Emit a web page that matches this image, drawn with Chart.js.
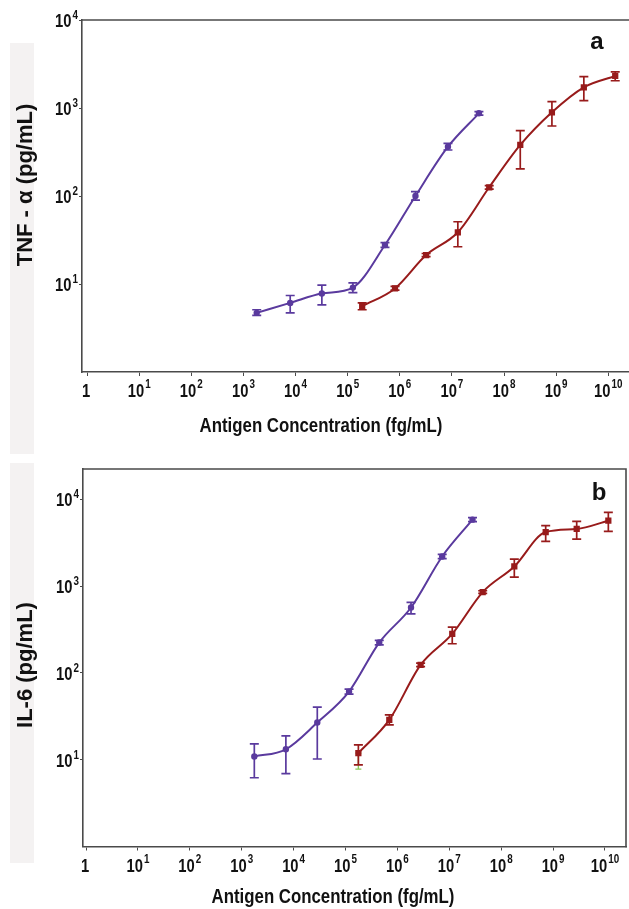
<!DOCTYPE html>
<html><head><meta charset="utf-8">
<script src="https://cdn.jsdelivr.net/npm/chart.js@4.4.1/dist/chart.umd.min.js"></script>
<style>
html,body{margin:0;padding:0;background:#fff;width:629px;height:909px;overflow:hidden;}
.strip{position:absolute;left:10px;width:24px;background:#f4f2f2;}
canvas{position:absolute;left:0;}
</style></head><body>
<div class="strip" style="top:43px;height:411px"></div>
<div class="strip" style="top:463px;height:400px"></div>
<canvas id="ca" width="629" height="455" style="top:0px"></canvas>
<canvas id="cb" width="629" height="454" style="top:455px"></canvas>
<script>
// ---------- tick exponents (labels 10^n) ----------
const xTickExponents = [0,1,2,3,4,5,6,7,8,9,10];
const yTickExponents = [1,2,3,4];

// ---------- texts ----------
const xTitle = 'Antigen Concentration (fg/mL)';
const yTitleA = 'TNF - \u03b1 (pg/mL)';
const yTitleB = 'IL-6 (pg/mL)';
const labelA = 'a';
const labelB = 'b';

// ---------- Panel a : TNF-alpha ----------
const tnfPurpleX  = [1.8e3, 7.9e3, 3.2e4, 1.26e5, 5.2e5, 2.0e6, 8.4e6, 3.3e7];
const tnfPurpleY  = [4.7, 6.1, 7.8, 9.1, 27.7, 100, 363, 870];
const tnfPurpleLo = [4.4, 4.7, 5.8, 8.0, 26.1, 90, 333, 832];
const tnfPurpleHi = [5.1, 7.4, 9.7, 10.3, 29.5, 112, 397, 908];

const tnfRedX  = [1.9e5, 8.1e5, 3.2e6, 1.3e7, 5.2e7, 2.05e8, 8.3e8, 3.4e9, 1.36e10];
const tnfRedY  = [5.6, 8.9, 21.3, 38.7, 125.6, 380, 894, 1718, 2310];
const tnfRedLo = [5.1, 8.5, 20.5, 26.5, 120, 203, 624, 1210, 2040];
const tnfRedHi = [6.1, 9.4, 22.2, 51, 131, 552, 1180, 2270, 2570];

// ---------- Panel b : IL-6 ----------
const il6PurpleX  = [1.75e3, 7.1e3, 2.86e4, 1.17e5, 4.47e5, 1.83e6, 7.3e6, 2.8e7];
const il6PurpleY  = [10.9, 13.2, 26.8, 61, 224, 568, 2200, 5840];
const il6PurpleLo = [6.2, 6.9, 10.2, 57, 211, 479, 2080, 5550];
const il6PurpleHi = [15.2, 18.8, 40.3, 65, 237, 649, 2330, 6150];

const il6RedX  = [1.77e5, 6.98e5, 2.8e6, 1.14e7, 4.4e7, 1.79e8, 7.2e8, 2.85e9, 1.16e10];
const il6RedY  = [11.9, 28.8, 124, 282, 855, 1687, 4207, 4560, 5680];
const il6RedLo = [8.7, 25.2, 118, 217, 825, 1273, 3280, 3490, 4270];
const il6RedHi = [14.8, 32.9, 130, 337, 885, 2055, 4977, 5570, 7080];
const il6GreenX = [1.77e5];
const il6GreenLo = [7.8];

const PURPLE = '#5a3a9e';
const RED = '#981b1b';
const GREEN = '#8cc85a';
const AXIS = '#4a4a4a';
const FAM = '"Liberation Sans", Arial, sans-serif';
const SX = 0.82; // horizontal condensation of the tick / x-title lettering

function pts(xs, ys){ return xs.map((x,i)=>({x:x, y:ys[i]})); }

function condText(ctx, text, x, y, font, align, sx) {
  ctx.save();
  ctx.font = font; ctx.textAlign = align; ctx.textBaseline = 'alphabetic';
  ctx.translate(x, y); ctx.scale(sx, 1);
  ctx.fillText(text, 0, 0);
  ctx.restore();
}
function condWidth(ctx, text, font, sx) {
  ctx.save(); ctx.font = font; const w = ctx.measureText(text).width * sx; ctx.restore(); return w;
}

const decor = {
  id: 'decor',
  beforeDatasetsDraw(chart, args, o) {
    const ctx = chart.ctx, xs = chart.scales.x, ys = chart.scales.y;
    (o.errors || []).forEach(e => {
      ctx.save();
      ctx.strokeStyle = e.color; ctx.lineWidth = e.width || 1.7;
      e.x.forEach((xv, i) => {
        const px = xs.getPixelForValue(xv);
        const pl = ys.getPixelForValue(e.lo[i]);
        const ph = ys.getPixelForValue(e.hi[i]);
        const c = e.cap;
        ctx.beginPath();
        ctx.moveTo(px, pl); ctx.lineTo(px, ph);
        if (c > 0) {
          ctx.moveTo(px - c, pl); ctx.lineTo(px + c, pl);
          ctx.moveTo(px - c, ph); ctx.lineTo(px + c, ph);
        }
        ctx.stroke();
      });
      ctx.restore();
    });
  },
  afterDraw(chart, args, o) {
    const ctx = chart.ctx, xs = chart.scales.x, ys = chart.scales.y, ca = chart.chartArea;
    ctx.save();
    // frame (top / right)
    ctx.strokeStyle = AXIS; ctx.lineWidth = 1.6;
    ctx.beginPath();
    ctx.moveTo(ca.left - 0.8, ca.top);
    ctx.lineTo(o.rightBorder ? ca.right + 0.8 : ca.right + 3, ca.top);
    if (o.rightBorder) { ctx.moveTo(ca.right, ca.top - 0.8); ctx.lineTo(ca.right, ca.bottom + 0.8); }
    ctx.stroke();

    ctx.fillStyle = '#111';
    const big = 'bold 18px ' + FAM, sup = 'bold 12px ' + FAM;
    // x tick labels
    const xb = ca.bottom + 25;
    xTickExponents.forEach(e => {
      const px = xs.getPixelForValue(Math.pow(10, e));
      if (e === 0) { condText(ctx, '1', px - 1, xb, big, 'center', SX); return; }
      const wb = condWidth(ctx, '10', big, SX);
      const ws = condWidth(ctx, String(e), sup, SX);
      const start = px - (wb + ws + 1) / 2;
      condText(ctx, '10', start, xb, big, 'left', SX);
      condText(ctx, String(e), start + wb + 1, xb - 9, sup, 'left', SX);
    });
    // y tick labels
    yTickExponents.forEach(e => {
      const py = ys.getPixelForValue(Math.pow(10, e));
      const right = ca.left - 4;
      const ws = condWidth(ctx, String(e), sup, SX);
      condText(ctx, String(e), right, py - 1, sup, 'right', SX);
      condText(ctx, '10', right - ws - 1, py + 7, big, 'right', SX);
    });
    // x title
    condText(ctx, xTitle, o.xTitleX, o.xTitleY, 'bold 20.5px ' + FAM, 'center', SX);
    // y title
    ctx.save();
    ctx.translate(o.yTitleX, o.yTitleY);
    ctx.rotate(-Math.PI / 2);
    ctx.font = 'bold 22px ' + FAM;
    ctx.textAlign = 'center'; ctx.textBaseline = 'alphabetic';
    ctx.fillText(o.yTitle, 0, 0);
    ctx.restore();
    // panel label
    ctx.font = 'bold 24px ' + FAM;
    ctx.textAlign = 'center'; ctx.textBaseline = 'alphabetic';
    ctx.fillText(o.label, o.labelX, o.labelY);
    ctx.restore();
  }
};

function makeChart(id, cfg) {
  return new Chart(document.getElementById(id), {
    type: 'line',
    data: {
      datasets: [
        { data: pts(cfg.px, cfg.py), borderColor: PURPLE, backgroundColor: PURPLE, borderWidth: 2,
          pointRadius: 2.2, pointStyle: 'circle', tension: 0.4, cubicInterpolationMode: 'monotone' },
        { data: pts(cfg.rx, cfg.ry), borderColor: RED, backgroundColor: RED, borderWidth: 2,
          pointRadius: 3, pointStyle: 'rect', tension: 0.4, cubicInterpolationMode: 'monotone' }
      ]
    },
    options: {
      responsive: false, animation: false, devicePixelRatio: 1,
      layout: { autoPadding: false, padding: { top: cfg.top, right: cfg.right, left: 0, bottom: 0 } },
      plugins: { legend: { display: false }, tooltip: { enabled: false }, decor: cfg.decor },
      scales: {
        x: {
          type: 'logarithmic', min: cfg.xmin, max: cfg.xmax,
          afterBuildTicks: s => { s.ticks = xTickExponents.map(e => ({ value: Math.pow(10, e) })); },
          afterFit: s => { s.height = cfg.xh; },
          ticks: { display: false },
          grid: { display: true, drawOnChartArea: false, drawTicks: true, tickLength: 4, color: AXIS, lineWidth: 1 },
          border: { display: true, color: AXIS, width: 1.6 }
        },
        y: {
          type: 'logarithmic', min: cfg.ymin, max: cfg.ymax,
          afterBuildTicks: s => { s.ticks = yTickExponents.map(e => ({ value: Math.pow(10, e) })); },
          afterFit: s => { s.width = cfg.yw; },
          ticks: { display: false },
          grid: { display: true, drawOnChartArea: false, drawTicks: true, tickLength: 3, color: AXIS, lineWidth: 1 },
          border: { display: true, color: AXIS, width: 1.6 }
        }
      }
    },
    plugins: [decor]
  });
}

makeChart('ca', {
  px: tnfPurpleX, py: tnfPurpleY, rx: tnfRedX, ry: tnfRedY,
  top: 20, right: 0, xh: 83, yw: 82,
  xmin: 0.80, xmax: 2.5e10, ymin: 1, ymax: 1e4,
  decor: {
    rightBorder: false,
    errors: [
      { x: tnfPurpleX, lo: tnfPurpleLo, hi: tnfPurpleHi, color: PURPLE, cap: 4.5 },
      { x: tnfRedX, lo: tnfRedLo, hi: tnfRedHi, color: RED, cap: 4.5 }
    ],
    xTitleX: 321, xTitleY: 432,
    yTitle: yTitleA, yTitleX: 32, yTitleY: 185,
    label: labelA, labelX: 597, labelY: 49
  }
});

makeChart('cb', {
  px: il6PurpleX, py: il6PurpleY, rx: il6RedX, ry: il6RedY,
  top: 14, right: 3, xh: 62.5, yw: 83,
  xmin: 0.875, xmax: 2.54e10, ymin: 1, ymax: 22400,
  decor: {
    rightBorder: true,
    errors: [
      { x: il6GreenX, lo: il6GreenLo, hi: [il6RedY[0]], color: GREEN, cap: 3, width: 1.4 },
      { x: il6PurpleX, lo: il6PurpleLo, hi: il6PurpleHi, color: PURPLE, cap: 4.5 },
      { x: il6RedX, lo: il6RedLo, hi: il6RedHi, color: RED, cap: 4.5 }
    ],
    xTitleX: 333, xTitleY: 448,
    yTitle: yTitleB, yTitleX: 32, yTitleY: 210,
    label: labelB, labelX: 599, labelY: 45
  }
});
</script>
</body></html>
